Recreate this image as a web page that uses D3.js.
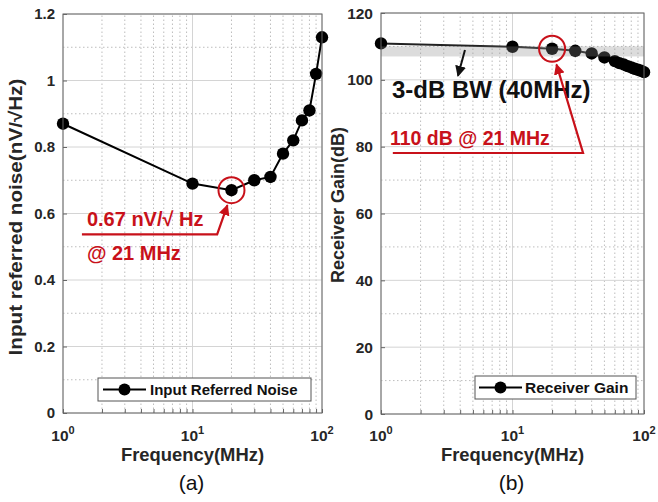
<!DOCTYPE html>
<html><head><meta charset="utf-8">
<script src="https://cdn.jsdelivr.net/npm/d3@7"></script>
<style>body{margin:0;background:#fff}svg{display:block}</style>
</head><body>
<svg id="c" width="658" height="502"></svg>
<script>
// ---------- data ----------
const freqA  = [1, 10, 20, 30, 40, 50, 60, 70, 80, 90, 100];
const noiseA = [0.87, 0.69, 0.67, 0.70, 0.71, 0.78, 0.82, 0.88, 0.91, 1.02, 1.13];
const freqB  = [1, 10, 20, 30, 40, 50, 60, 65, 70, 75, 80, 85, 90, 95, 100];
const gainB  = [110.9, 109.9, 109.3, 108.7, 107.9, 106.7, 105.6, 105.0, 104.6, 104.1, 103.7, 103.3, 103.0, 102.7, 102.3];
const bandB  = [107, 110];
const yTicksA = [0, 0.2, 0.4, 0.6, 0.8, 1, 1.2];
const yTicksB = [0, 20, 40, 60, 80, 100, 120];
const xDecades = [1, 10, 100];
const xExp = ["0", "1", "2"];

const FONT = "Arial, 'Liberation Sans', Helvetica, sans-serif";
const RED = "#c8111a";
const svg = d3.select("#c");

const defs = svg.append("defs");
function arrowMarker(id, color) {
  defs.append("marker").attr("id", id).attr("viewBox", "0 0 10 10")
    .attr("refX", 9).attr("refY", 5).attr("markerWidth", 11).attr("markerHeight", 11)
    .attr("markerUnits", "userSpaceOnUse").attr("orient", "auto")
    .append("path").attr("d", "M0,0 L10,5 L0,10 z").attr("fill", color);
}
arrowMarker("arR", RED);
arrowMarker("arK", "#111");

function panel(o) {
  const g = svg.append("g");
  const x = d3.scaleLog().domain([1, 100]).range(o.xr);
  const y = d3.scaleLinear().domain(o.yd).range(o.yr);
  const minorX = [];
  for (const d of [1, 10]) for (let k = 2; k <= 9; k++) minorX.push(d * k);
  const step = o.yTicks[1] - o.yTicks[0];
  const minorY = o.yTicks.slice(0, -1).map(v => v + step / 2);

  // minor grid (dotted)
  g.selectAll(".mgx").data(minorX).enter().append("line")
    .attr("x1", d => x(d)).attr("x2", d => x(d)).attr("y1", o.yr[0]).attr("y2", o.yr[1])
    .attr("stroke", "#bdbdbd").attr("stroke-width", 1).attr("stroke-dasharray", "1.5,2.5");
  g.selectAll(".mgy").data(minorY).enter().append("line")
    .attr("x1", o.xr[0]).attr("x2", o.xr[1]).attr("y1", d => y(d)).attr("y2", d => y(d))
    .attr("stroke", "#bdbdbd").attr("stroke-width", 1).attr("stroke-dasharray", "1.5,2.5");
  // major grid
  g.selectAll(".gx").data(xDecades).enter().append("line")
    .attr("x1", d => x(d)).attr("x2", d => x(d)).attr("y1", o.yr[0]).attr("y2", o.yr[1])
    .attr("stroke", "#d4d4d4").attr("stroke-width", 1);
  g.selectAll(".gy").data(o.yTicks).enter().append("line")
    .attr("x1", o.xr[0]).attr("x2", o.xr[1]).attr("y1", d => y(d)).attr("y2", d => y(d))
    .attr("stroke", "#d4d4d4").attr("stroke-width", 1);

  // axes via d3 axis (ticks inward)
  const ax = g.append("g").attr("transform", `translate(0,${o.yr[0]})`)
    .call(d3.axisBottom(x).tickValues(xDecades.concat(minorX)).tickSize(-4).tickFormat(""));
  const ay = g.append("g").attr("transform", `translate(${o.xr[0]},0)`)
    .call(d3.axisLeft(y).tickValues(o.yTicks).tickSize(-4).tickFormat(""));
  [ax, ay].forEach(a => { a.selectAll("line").attr("stroke", "#666"); a.select(".domain").remove(); });

  // y tick labels
  g.selectAll(".yl").data(o.yTicks).enter().append("text")
    .attr("x", o.xr[0] - 8).attr("y", d => y(d)).attr("dy", "0.36em")
    .attr("text-anchor", "end").attr("font-family", FONT).attr("font-weight", "bold")
    .attr("font-size", o.tickFs).attr("fill", "#262626").text(o.yFmt);
  // x tick labels
  const xl = g.selectAll(".xl").data(xDecades).enter().append("text")
    .attr("x", d => x(d)).attr("y", 441).attr("text-anchor", "middle")
    .attr("font-family", FONT).attr("font-weight", "bold").attr("font-size", 15.5).attr("fill", "#262626");
  xl.append("tspan").text("10");
  xl.append("tspan").attr("font-size", 11).attr("dy", -7).text((d, i) => xExp[i]);

  // axis titles
  g.append("text").attr("x", (o.xr[0] + o.xr[1]) / 2).attr("y", 461).attr("text-anchor", "middle")
    .attr("font-family", FONT).attr("font-weight", "bold").attr("font-size", 18.4).attr("fill", "#262626")
    .text("Frequency(MHz)");
  const yt = g.append("text").attr("transform", `translate(${o.ytX},${o.ytY}) rotate(-90)`)
    .attr("text-anchor", "middle").attr("font-family", FONT).attr("font-weight", "bold")
    .attr("font-size", 18).attr("fill", "#262626").text(o.yTitle);
  if (o.ytLen) yt.attr("textLength", o.ytLen).attr("lengthAdjust", "spacingAndGlyphs");
  g.append("text").attr("x", (o.xr[0] + o.xr[1]) / 2 - 1).attr("y", 490).attr("text-anchor", "middle")
    .attr("font-family", FONT).attr("font-size", 21).attr("fill", "#111").text(o.tag);

  return { g, x, y };
}

// ---------------- Panel (a) ----------------
const A = panel({ xr: [63, 322], yr: [413, 14], yd: [0, 1.2], yTicks: yTicksA,
  yFmt: d => d3.format("")(d), tickFs: 15, ytX: 22, ytY: 217, ytLen: 277,
  yTitle: "Input referred noise(nV/\u221AHz)", tag: "(a)" });
{
  const { g, x, y } = A;
  const pts = freqA.map((f, i) => [f, noiseA[i]]);
  g.append("path").datum(pts).attr("fill", "none").attr("stroke", "#000").attr("stroke-width", 2)
    .attr("d", d3.line().x(d => x(d[0])).y(d => y(d[1])));
  g.selectAll(".pa").data(pts).enter().append("circle")
    .attr("cx", d => x(d[0])).attr("cy", d => y(d[1])).attr("r", 6.2).attr("fill", "#000");
  // annotation
  g.append("circle").attr("cx", x(freqA[2])).attr("cy", y(noiseA[2])).attr("r", 13)
    .attr("fill", "none").attr("stroke", RED).attr("stroke-width", 2);
  g.append("path").attr("fill", "none").attr("stroke", RED).attr("stroke-width", 2.2)
    .attr("marker-end", "url(#arR)")
    .attr("d", d3.line()([[x(1.40), y(0.537)], [x(15.5), y(0.537)], [x(18.6), y(0.625)]]));
  g.append("text").attr("x", x(1.53)).attr("y", y(0.561)).attr("font-family", FONT)
    .attr("font-weight", "bold").attr("font-size", 20).attr("fill", RED).text("0.67 nV/\u221A Hz");
  g.append("text").attr("x", x(1.53)).attr("y", y(0.461)).attr("font-family", FONT)
    .attr("font-weight", "bold").attr("font-size", 20).attr("fill", RED).text("@ 21 MHz");
  // legend
  const lg = g.append("g");
  lg.append("rect").attr("x", 98).attr("y", 378).attr("width", 213).attr("height", 23)
    .attr("fill", "#fff").attr("stroke", "#555").attr("stroke-width", 1);
  lg.append("line").attr("x1", 103).attr("x2", 146).attr("y1", 389.5).attr("y2", 389.5)
    .attr("stroke", "#000").attr("stroke-width", 2);
  lg.append("circle").attr("cx", 124.5).attr("cy", 389.5).attr("r", 6).attr("fill", "#000");
  lg.append("text").attr("x", 150).attr("y", 395).attr("font-family", FONT).attr("font-weight", "bold")
    .attr("font-size", 15).attr("fill", "#111").text("Input Referred Noise");
  // frame
  g.append("rect").attr("x", 63).attr("y", 14).attr("width", 259).attr("height", 399)
    .attr("fill", "none").attr("stroke", "#666").attr("stroke-width", 1);
}

// ---------------- Panel (b) ----------------
const B = panel({ xr: [381, 644], yr: [414, 13], yd: [0, 120], yTicks: yTicksB,
  yFmt: d => String(d), tickFs: 15.5, ytX: 344, ytY: 205, ytLen: null,
  yTitle: "Receiver Gain(dB)", tag: "(b)" });
{
  const { g, x, y } = B;
  const pts = freqB.map((f, i) => [f, gainB[i]]);
  g.append("path").datum(pts).attr("fill", "none").attr("stroke", "#222").attr("stroke-width", 2)
    .attr("d", d3.line().x(d => x(d[0])).y(d => y(d[1])));
  g.selectAll(".pb").data(pts).enter().append("circle")
    .attr("cx", d => x(d[0])).attr("cy", d => y(d[1])).attr("r", 6.2).attr("fill", "#000");
  // 3-dB band
  g.append("rect").attr("x", x(1)).attr("width", x(100) - x(1))
    .attr("y", y(bandB[1])).attr("height", y(bandB[0]) - y(bandB[1]))
    .attr("fill", "#8c8c8c").attr("opacity", 0.3);
  // annotations
  g.append("text").attr("x", x(1.21)).attr("y", y(94.6)).attr("font-family", FONT)
    .attr("font-weight", "bold").attr("font-size", 24).attr("fill", "#111").text("3-dB BW (40MHz)");
  g.append("path").attr("fill", "none").attr("stroke", "#111").attr("stroke-width", 2)
    .attr("marker-end", "url(#arK)")
    .attr("d", d3.line()([[x(4.35), y(108.9)], [x(3.85), y(101.2)]]));
  g.append("circle").attr("cx", x(freqB[2])).attr("cy", y(gainB[2])).attr("r", 13)
    .attr("fill", "none").attr("stroke", RED).attr("stroke-width", 2);
  g.append("path").attr("fill", "none").attr("stroke", RED).attr("stroke-width", 2.2)
    .attr("marker-end", "url(#arR)")
    .attr("d", d3.line()([[x(1.23), y(78.1)], [x(34.4), y(78.1)], [x(21.6), y(104.6)]]));
  g.append("text").attr("x", x(1.17)).attr("y", y(80.5)).attr("font-family", FONT)
    .attr("font-weight", "bold").attr("font-size", 19.5).attr("fill", RED).text("110 dB @ 21 MHz");
  // legend
  const lg = g.append("g");
  lg.append("rect").attr("x", 475).attr("y", 376).attr("width", 161).attr("height", 23)
    .attr("fill", "#fff").attr("stroke", "#555").attr("stroke-width", 1);
  lg.append("line").attr("x1", 479).attr("x2", 522).attr("y1", 387.5).attr("y2", 387.5)
    .attr("stroke", "#000").attr("stroke-width", 2);
  lg.append("circle").attr("cx", 500.5).attr("cy", 387.5).attr("r", 6).attr("fill", "#000");
  lg.append("text").attr("x", 525).attr("y", 393).attr("font-family", FONT).attr("font-weight", "bold")
    .attr("font-size", 15.5).attr("fill", "#111").text("Receiver Gain");
  g.append("rect").attr("x", 381).attr("y", 13).attr("width", 263).attr("height", 401)
    .attr("fill", "none").attr("stroke", "#666").attr("stroke-width", 1);
}
</script>
</body></html>
